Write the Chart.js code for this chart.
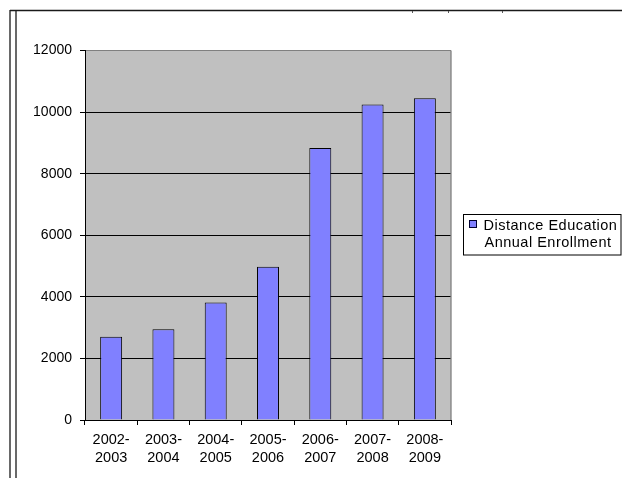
<!DOCTYPE html>
<html>
<head>
<meta charset="utf-8">
<script src="https://cdn.jsdelivr.net/npm/chart.js@4/dist/chart.umd.min.js"></script>
<style>
  html, body { margin: 0; padding: 0; background: #fff; }
  canvas { display: block; }
</style>
</head>
<body>
<canvas id="c" width="622" height="478"></canvas>
<script>
// Academic years (category axis)
const years = ["2002-2003", "2003-2004", "2004-2005", "2005-2006", "2006-2007", "2007-2008", "2008-2009"];
// Annual enrollment in distance education courses
const enrollment = [2700, 2950, 3820, 4980, 8830, 10250, 10450];
// Value axis
const yMin = 0;
const yMax = 12000;
const yStep = 2000;
// Legend text, two lines
const seriesLines = ["Distance Education", "Annual Enrollment"];

const FONT = '"Liberation Sans", Arial, sans-serif';
const BAR_FILL = '#8080FF';
const PLOT_BG = '#C0C0C0';

// "2002-2003" -> ["2002-", "2003"]
const tickLines = years.map(y => { const p = y.split('-'); return [p[0] + '-', p[1]]; });

const plotDecor = {
  id: 'plotDecor',
  beforeDraw(chart) {
    const { ctx, chartArea: a } = chart;
    ctx.save();
    ctx.fillStyle = PLOT_BG;
    ctx.fillRect(a.left, a.top, a.right - a.left, a.bottom - a.top);
    ctx.restore();
  },
  afterDraw(chart) {
    const { ctx, chartArea: a } = chart;
    ctx.save();
    // gray right edge of the plot area
    ctx.strokeStyle = '#808080';
    ctx.lineWidth = 1.3;
    ctx.beginPath();
    ctx.moveTo(a.right, a.top);
    ctx.lineTo(a.right, a.bottom);
    ctx.stroke();

    // page frame: double rule on the left, single rule on top
    ctx.strokeStyle = '#1a1a1a';
    ctx.lineWidth = 1.3;
    ctx.beginPath();
    ctx.moveTo(10, 10.5); ctx.lineTo(622, 10.5);
    ctx.moveTo(10, 10); ctx.lineTo(10, 478);
    ctx.moveTo(16, 10.5); ctx.lineTo(16, 478);
    ctx.stroke();
    // small marks hanging under the top rule
    ctx.lineWidth = 1;
    ctx.strokeStyle = '#555';
    ctx.beginPath();
    [412.5, 448.5, 502.5].forEach(x => { ctx.moveTo(x, 11); ctx.lineTo(x, 13); });
    ctx.stroke();

    // legend box
    const lx = 463.5, ly = 214.5, lw = 157.5, lh = 40.5;
    ctx.strokeStyle = '#000';
    ctx.lineWidth = 1;
    ctx.fillStyle = '#fff';
    ctx.fillRect(lx, ly, lw, lh);
    ctx.strokeRect(lx, ly, lw, lh);
    // swatch
    ctx.fillStyle = BAR_FILL;
    ctx.fillRect(469.5, 220.5, 7, 7);
    ctx.strokeStyle = '#000030';
    ctx.strokeRect(469.5, 220.5, 7, 7);
    // text
    ctx.fillStyle = '#000';
    ctx.font = '14.5px ' + FONT;
    if ('letterSpacing' in ctx) ctx.letterSpacing = '0.5px';
    ctx.textBaseline = 'alphabetic';
    ctx.textAlign = 'left';
    ctx.fillText(seriesLines[0], 483.5, 229.5);
    ctx.fillText(seriesLines[1], 484.5, 246.5);
    ctx.restore();
  }
};

new Chart(document.getElementById('c'), {
  type: 'bar',
  data: {
    labels: tickLines,
    datasets: [{
      label: seriesLines.join(' '),
      data: enrollment,
      backgroundColor: BAR_FILL,
      borderColor: '#000',
      borderWidth: 1,
      categoryPercentage: 1,
      barPercentage: 0.42
    }]
  },
  options: {
    responsive: false,
    animation: false,
    devicePixelRatio: 1,
    layout: { padding: { left: 0, right: 171, top: 50.5, bottom: 0 } },
    plugins: {
      legend: { display: false },
      tooltip: { enabled: false }
    },
    scales: {
      x: {
        offset: true,
        grid: {
          offset: true,
          drawOnChartArea: false,
          drawTicks: true,
          tickLength: 5,
          tickColor: '#000',
          color: '#000'
        },
        border: { display: true, color: '#000', width: 1 },
        ticks: {
          color: '#000',
          padding: 6,
          maxRotation: 0,
          autoSkip: false,
          font: { family: FONT, size: 14.5, lineHeight: 1.25 }
        },
        afterFit(scale) { scale.height = 58; }
      },
      y: {
        min: yMin,
        max: yMax,
        ticks: {
          stepSize: yStep,
          color: '#000',
          padding: 8,
          font: { family: FONT, size: 14 },
          callback: v => String(v)
        },
        grid: {
          drawTicks: true,
          tickLength: 5,
          tickColor: '#000',
          lineWidth: 1,
          color: ctx => (ctx.tick && ctx.tick.value === yMax) ? '#808080' : '#000'
        },
        border: { display: true, color: '#000', width: 1 },
        afterFit(scale) { scale.width = 85; }
      }
    }
  },
  plugins: [plotDecor]
});
</script>
</body>
</html>
